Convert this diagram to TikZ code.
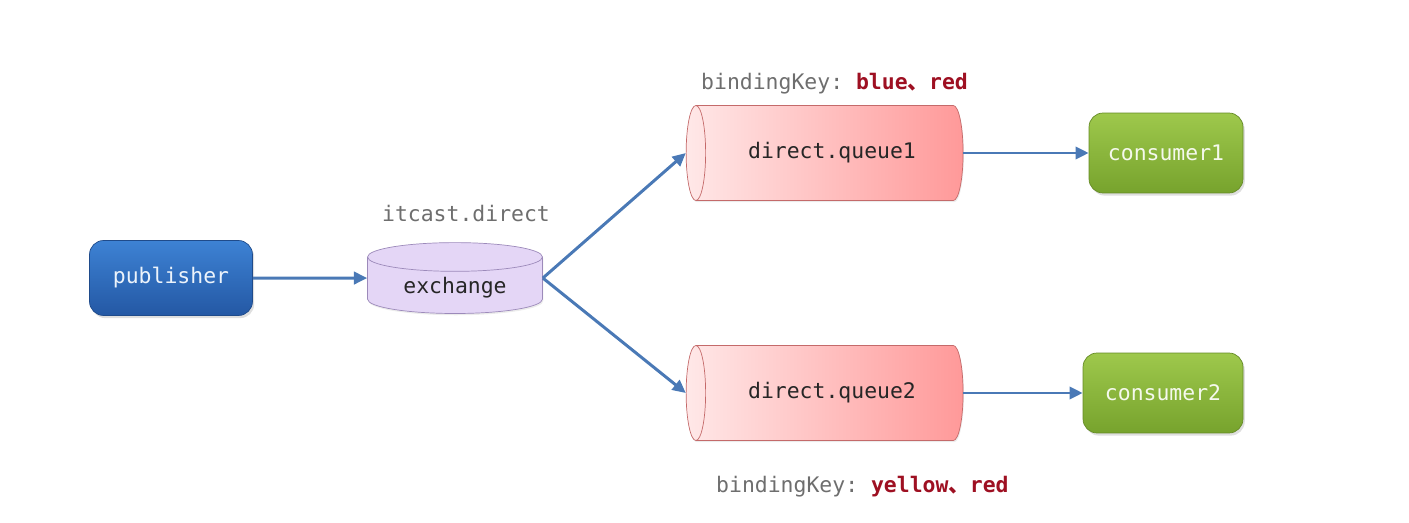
\documentclass[tikz,border=0pt]{standalone}
\usepackage{fontspec}
\setmonofont{DejaVu Sans Mono}
\newfontfamily\cjk{Noto Sans CJK SC}
\usepackage{xcolor}
\usepackage{tikz}
\usetikzlibrary{arrows.meta,shapes.geometric,shadows}
\definecolor{pubtop}{HTML}{3D82D4}
\definecolor{pubbot}{HTML}{2458A4}
\definecolor{contop}{HTML}{9EC84C}
\definecolor{conbot}{HTML}{77A32D}
\definecolor{exfill}{HTML}{E4D6F6}
\definecolor{exline}{HTML}{9C8ABA}
\definecolor{qlight}{HTML}{FFE8E8}
\definecolor{qdark}{HTML}{FF9999}
\definecolor{qline}{HTML}{C46A6A}
\definecolor{wirecol}{HTML}{4A79B6}
\definecolor{keygray}{HTML}{6E6E6E}
\definecolor{keyred}{HTML}{9E1022}
\newcommand{\diagfont}{\ttfamily\fontsize{12.2}{14}\selectfont}
\newcommand{\appbox}[6]{\node[top color=#1top,bottom color=#1bot,draw=#1bot!85!black,rounded corners=8pt,minimum width=#5,minimum height=#6,text=white!90!#1top,font=\diagfont,drop shadow={shadow xshift=1pt,shadow yshift=-1.5pt,opacity=0.25}] at (#2) (#3) {#4};}
\newcommand{\queuecyl}[3]{\node[cylinder,shape border rotate=180,shape aspect=0.6,minimum height=5.54cm,minimum width=1.9cm,left color=qlight,right color=qdark,draw=qline,font=\diagfont,text=black!85,drop shadow={shadow xshift=0.5pt,shadow yshift=-1pt,opacity=0.15}] at (#1) (#2) {#3};}
\newcommand{\wire}[2]{\draw[-{Triangle[length=7.5pt,width=7pt]},line width=1.7pt,wirecol] (#1) -- (#2);}

\begin{document}
\begin{tikzpicture}[x=0.02cm,y=-0.02cm]
\useasboundingbox (0,0) rectangle (1409,523);

\appbox{pub}{171,278}{publisher}{publisher}{3.26cm}{1.5cm}
\node[cylinder,shape border rotate=90,shape aspect=0.25,minimum width=3.5cm,minimum height=1.4cm,fill=exfill,draw=exline,font=\diagfont,text=black!85,drop shadow={shadow xshift=0.5pt,shadow yshift=-1pt,opacity=0.15}] at (455,288) (exchange) {exchange};
\node[font=\diagfont,text=keygray] at (466,214) (exname) {itcast.direct};

\queuecyl{832,153}{queue1}{direct.queue1}
\queuecyl{832,393}{queue2}{direct.queue2}
\node[font=\diagfont,text=keygray,anchor=west] at (695,84) (key1) {bindingKey: \textcolor{keyred}{\bfseries blue{\cjk 、}red}};
\node[font=\diagfont,text=keygray,anchor=west] at (710,487) (key2) {bindingKey: \textcolor{keyred}{\bfseries yellow{\cjk 、}red}};

\appbox{con}{1166,153}{consumer1}{consumer1}{3.08cm}{1.6cm}
\appbox{con}{1163,393}{consumer2}{consumer2}{3.2cm}{1.6cm}

\wire{publisher}{exchange.shape center -| exchange.west}
\wire{exchange.shape center -| exchange.east}{queue1.west}
\wire{exchange.shape center -| exchange.east}{queue2.west}
\wire{queue1}{consumer1}
\wire{queue2}{consumer2}
\end{tikzpicture}
\end{document}
